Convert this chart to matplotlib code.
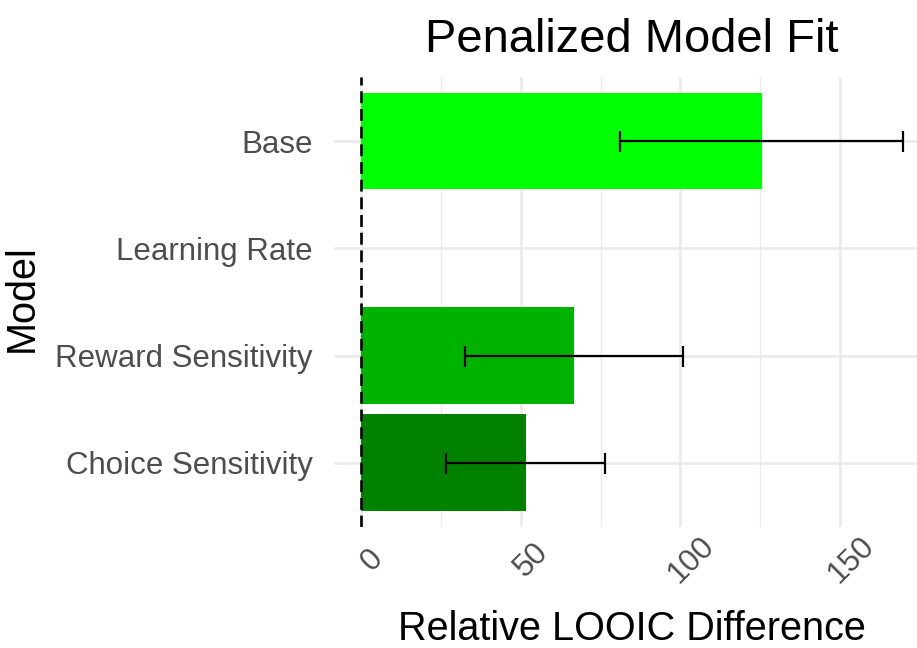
import numpy as np
import matplotlib
matplotlib.use("Agg")
import matplotlib.pyplot as plt
import matplotlib.transforms as mtransforms

plt.rcParams['font.family'] = ['Liberation Sans', 'DejaVu Sans']

# dados (de baixo para cima)
modelos = ["Choice Sensitivity", "Reward Sensitivity", "Learning Rate", "Base"]
looic_diff = [51.5, 66.8, 0.0, 125.4]
looic_se = [24.95, 34.1, np.nan, 44.2]
cores = ["#008200", "#00B200", "#00E000", "#00FF00"]
x_ticks = [0, 50, 100, 150]

fig = plt.figure(figsize=(9.17, 6.48), dpi=100)
# painel ultrapassa a margem direita (imagem cortada como no original)
ax = fig.add_axes([333.8 / 917, 1 - 527 / 648, (931.3 - 333.8) / 917, (527 - 77) / 648])

y = np.arange(1, len(modelos) + 1)

ax.barh(y, looic_diff, height=0.9, color=cores, zorder=2)
ax.errorbar(looic_diff, y, xerr=looic_se, fmt="none", ecolor="black",
            elinewidth=1.6, capsize=7.56, capthick=1.6, zorder=3)
ax.axvline(0, color="black", linewidth=1.9, linestyle=(0, (4.5, 2.2)), zorder=4)

ax.set_xlim(-8.5, 178.5)
ax.set_ylim(0.4, 4.6)

# grelha estilo theme_minimal
ax.set_xticks(x_ticks)
ax.set_xticks([25, 75, 125], minor=True)
ax.set_yticks(y)
ax.grid(True, which="major", color="#EBEBEB", linewidth=1.9, zorder=0)
ax.grid(True, which="minor", axis="x", color="#EBEBEB", linewidth=1.0, zorder=0)
ax.set_axisbelow(True)
for s in ax.spines.values():
    s.set_visible(False)
ax.tick_params(which="both", length=0)

ax.set_yticklabels(modelos, fontsize=22.5, color="#4D4D4D")
ax.tick_params(axis="y", pad=15)

# rotulos do eixo x rodados 45 graus (desenhados a parte para controlar o deslocamento)
ax.set_xticklabels([])
offset = mtransforms.ScaledTranslation(11 / 100, -33 / 100, fig.dpi_scale_trans)
trans = mtransforms.blended_transform_factory(ax.transData, ax.transAxes) + offset
for t in x_ticks:
    ax.text(t, 0, str(t), transform=trans, fontsize=22.5, color="#4D4D4D",
            rotation=45, ha="center", va="center", clip_on=False)

fig.text(631.5 / 917, 1 - 52 / 648, "Penalized Model Fit", fontsize=33.9,
         ha="center", va="baseline", color="black")
fig.text(632 / 917, 8 / 648, "Relative LOOIC Difference", fontsize=28.5,
         ha="center", va="baseline", color="black")
fig.text(22 / 917, 1 - 298 / 648, "Model", fontsize=28.5, rotation=90,
         ha="center", va="center", color="black")

fig.savefig("out.png", dpi=100)
